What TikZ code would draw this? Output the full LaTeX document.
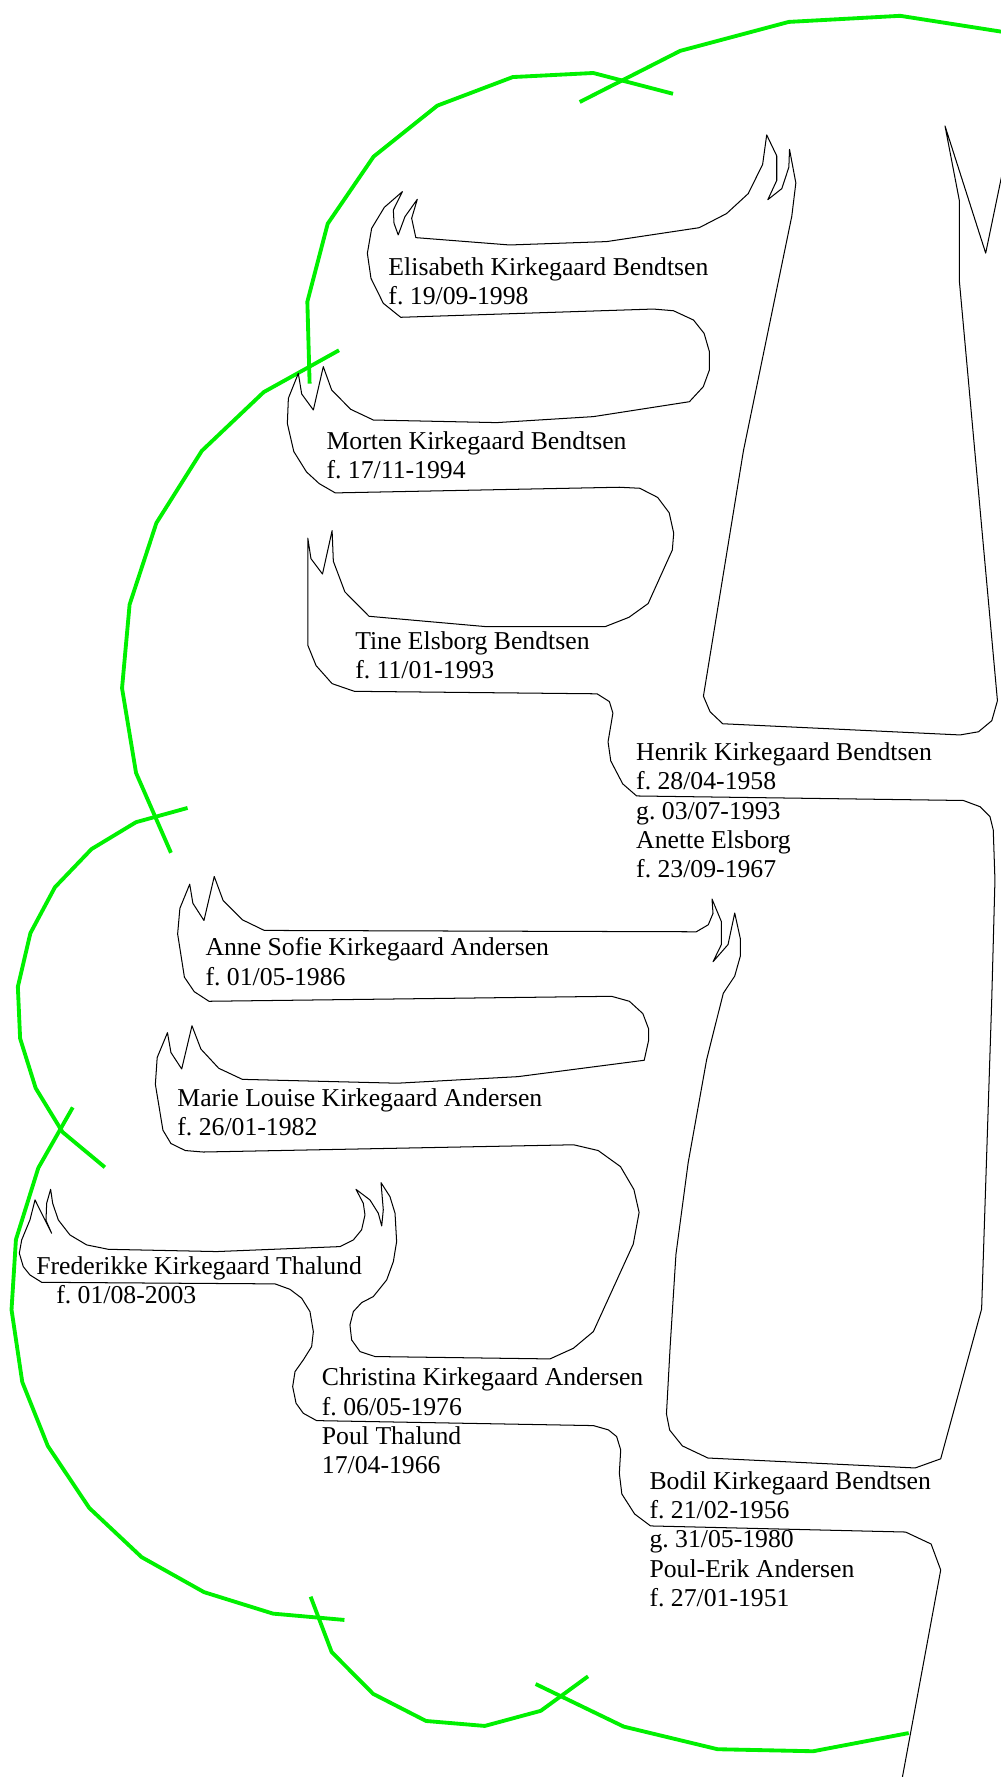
\documentclass[tikz,border=0pt]{standalone}
\usepackage{fontspec}
\setmainfont{Liberation Serif}
\frenchspacing
\begin{document}
\begin{tikzpicture}[x=1pt,y=-1pt,
  outline/.style={draw=black,line width=0.9pt,line join=round},
  vine/.style={draw={rgb,255:red,0;green,240;blue,0},line width=3.4pt,line join=round},
  txt/.style={inner sep=0pt,align=left,anchor=base west,font=\fontsize{22.76pt}{25.9pt}\selectfont}]
\useasboundingbox (0,0) rectangle (885.8,1572.6);
\begin{scope}
\clip (0,0) rectangle (885.8,1572.6);
% green vines
\draw[vine] (274,339.5) -- (272,267) -- (290,198) -- (330.6,138.6) -- (387,93.5) -- (453.8,68.2) -- (525,64.6) -- (595.6,83);
\draw[vine] (513,90.3) -- (602,45) -- (698,19.4) -- (796.6,14) -- (886,28) -- (900,30.3);
\draw[vine] (300,310) -- (233.4,347) -- (178.6,399) -- (138.4,462.8) -- (114.7,535) -- (108,609) -- (120.4,684) -- (151.3,754.7);
\draw[vine] (166,715) -- (120.4,727.6) -- (81,751.4) -- (48.6,785.2) -- (26.9,825.8) -- (15.8,873.3) -- (17.8,919) -- (31.6,963) -- (55.3,1001.8) -- (92.8,1033);
\draw[vine] (64.4,980) -- (33.9,1033.6) -- (14.1,1097) -- (10.2,1159) -- (19.7,1223) -- (42.3,1279.6) -- (79,1334.5) -- (125.3,1378) -- (180.6,1409) -- (241.6,1428) -- (304.8,1433.6);
\draw[vine] (274.9,1413) -- (293.5,1462) -- (330.2,1499) -- (377,1523) -- (429,1527.4) -- (478.6,1514) -- (520.4,1483.5);
\draw[vine] (474,1490.3) -- (552,1528) -- (635,1548) -- (719.6,1549.8) -- (804.2,1533.7);
% black outline of the tree
\draw[outline] (898,100) -- (872.3,224) -- (836.3,111.5) -- (849,177.5) -- (849,248.6) -- (882.7,620.1) -- (877.7,637.8) -- (865.9,647.6) -- (849.6,650.4) -- (639.6,640.5) -- (628.4,629.9) -- (622.5,616.1) -- (657.9,399) -- (700.7,191.4) -- (704.3,161.9) -- (698.7,132.2) -- (698.1,148) -- (691.9,166.9) -- (679.5,176.7) -- (687.4,159.7) -- (687.4,138) -- (678.5,119.4) -- (674.9,145.5) -- (662.2,171.3) -- (643,189) -- (618.8,201.5) -- (536.9,213.8) -- (451,216.8) -- (368,210.3) -- (364.3,193.2) -- (369.3,176.4) -- (358.4,191.7) -- (352.4,207.9) -- (348.7,197.6) -- (348.1,185.8) -- (356.1,169.6) -- (340.1,183.5) -- (328.9,202.1) -- (325.1,224.2) -- (328.3,246.3) -- (339.2,268.4) -- (354.6,280.8) -- (578.2,273.5) -- (596,275) -- (613.7,283.2) -- (623.1,295) -- (627.8,311.2) -- (627.8,327.4) -- (622.4,342.2) -- (610.1,355.5) -- (525.1,368.7) -- (439.5,374) -- (330.4,371.7) -- (310.3,362.2) -- (293.5,345.1) -- (286.1,324.5) -- (277.3,362.8) -- (267,348.7) -- (264,330.4) -- (255.2,352.5) -- (254.3,374.8) -- (260,399.6) -- (271.2,417.6) -- (282.5,428) -- (296.7,436.2) -- (548.1,431.2) -- (566.2,432.1) -- (582,440.2) -- (592.2,453.8) -- (596.2,471.8) -- (595,486.7) -- (573.6,534.1) -- (556.6,546.3) -- (535.7,554.5) -- (429.5,554.5) -- (326.6,545.4) -- (305.2,523.8) -- (295,496.7) -- (293.9,469.6) -- (285.4,508) -- (275.2,494.4) -- (272.4,476.3) -- (272.4,571) -- (279.7,589) -- (293.9,605) -- (313.6,611.8) -- (528.4,614) -- (539.3,620.9) -- (542.4,631.1) -- (538.1,656.5) -- (540.5,673.4) -- (551.1,693.7) -- (563.4,704.4) -- (852.5,708.4) -- (867.3,713.9) -- (876.1,722.7) -- (879,734.5) -- (880.5,778.8) -- (877.6,886.6) -- (868.7,1158.4) -- (832.5,1291) -- (809.9,1299.1) -- (626.5,1290.3) -- (603.9,1279.6) -- (592.6,1265.5) -- (589.8,1251.3) -- (593.1,1191) -- (598.2,1110) -- (609,1029) -- (625.4,937.5) -- (640.1,879) -- (650.2,863.8) -- (655.2,846) -- (655.2,830.8) -- (650.2,808) -- (644.3,835.9) -- (631,851.1) -- (638.4,835.9) -- (638.4,815.6) -- (630.1,795.6) -- (631,808.3) -- (626.8,818.4) -- (616.2,824.6) -- (233.9,823.4) -- (214.5,814) -- (197.5,797) -- (189.6,775.7) -- (180.5,814.6) -- (170.7,799.4) -- (167.9,782.5) -- (159.2,803.8) -- (157.2,826.5) -- (163.2,864.8) -- (171.9,877.6) -- (184.9,886.1) -- (541.2,881.7) -- (557,886.1) -- (568.9,897) -- (574,910.5) -- (574,920.7) -- (570.1,938.3) -- (458.3,952.8) -- (351.6,958.6) -- (214.5,955.2) -- (193.6,945.4) -- (177.8,928.4) -- (169.9,907.8) -- (160.8,946) -- (151.3,931.5) -- (148.2,913.9) -- (139.1,935.9) -- (137.5,959.6) -- (144.2,1000.2) -- (151.3,1012) -- (164,1018.2) -- (179.8,1019.5) -- (507.7,1013.1) -- (529.4,1018.2) -- (549.1,1032.4) -- (561,1052.7) -- (565.6,1073) -- (560.4,1101) -- (525.1,1178.4) -- (507.4,1193.2) -- (486.7,1202.6) -- (331.9,1200.5) -- (318.6,1196.1) -- (311.2,1185.8) -- (309.7,1172.5) -- (312.7,1160.7) -- (320,1152.8) -- (330.4,1147.4) -- (342.2,1132.7) -- (348.1,1116.5) -- (351,1098.8) -- (349.6,1073.7) -- (345.1,1059) -- (337.2,1046.6) -- (339.2,1070.7) -- (337.8,1084.9) -- (334.8,1073.7) -- (327.4,1061.9) -- (315,1052.5) -- (321.5,1064.8) -- (323,1075.2) -- (320,1088.4) -- (312.7,1097.3) -- (300.9,1103.2) -- (191.7,1107.6) -- (95.9,1105.6) -- (76.7,1101.7) -- (61.9,1092.9) -- (51.6,1079.6) -- (46.6,1064.8) -- (44.8,1052.5) -- (41.3,1064.8) -- (40.7,1080) -- (45.7,1091.4) -- (31,1061.9) -- (26.5,1079.6) -- (19.2,1097.3) -- (17.1,1109.1) -- (20.6,1120.9) -- (26.5,1128.3) -- (36.9,1134.8) -- (243.4,1136.2) -- (256.6,1141) -- (267,1148.9) -- (274.3,1160.7) -- (277.3,1178.4) -- (275.8,1191.7) -- (268.4,1203.5) -- (261.1,1213.8) -- (259,1227.1) -- (262,1241.8) -- (268.4,1250.7) -- (280.2,1257.2) -- (525.1,1261.6) -- (538.4,1265.4) -- (545.7,1271.3) -- (549.3,1283.1) -- (548.1,1303.8) -- (550.3,1322.1) -- (561.6,1339.8) -- (575.7,1350.4) -- (801.4,1355.8) -- (824,1366.4) -- (832.5,1389.4) -- (798.6,1572.7) -- (796,1590);
\end{scope}
% names (anchored at the baseline of the last line)
\node[txt] (elisabeth) at (343.6,269.3) {Elisabeth Kirkegaard Bendtsen\\f. 19/09-1998};
\node[txt] (morten) at (288.8,423.9) {Morten Kirkegaard Bendtsen\\f. 17/11-1994};
\node[txt] (tine) at (314.2,600.6) {Tine Elsborg Bendtsen\\f. 11/01-1993};
\node[txt] (henrik) at (562.8,776.8) {Henrik Kirkegaard Bendtsen\\f. 28/04-1958\\g. 03/07-1993\\Anette Elsborg\\f. 23/09-1967};
\node[txt] (annesofie) at (181.7,871.9) {Anne Sofie Kirkegaard Andersen\\f. 01/05-1986};
\node[txt] (marie) at (156.8,1004.9) {Marie Louise Kirkegaard Andersen\\f. 26/01-1982};
\node[txt] (frederikke) at (31.9,1153.6) {Frederikke Kirkegaard Thalund\\\hspace*{17.7pt}f. 01/08-2003};
\node[txt] (christina) at (284.7,1304.2) {Christina Kirkegaard Andersen\\f. 06/05-1976\\Poul Thalund\\17/04-1966};
\node[txt] (bodil) at (574.6,1421.6) {Bodil Kirkegaard Bendtsen\\f. 21/02-1956\\g. 31/05-1980\\Poul-Erik Andersen\\f. 27/01-1951};
\end{tikzpicture}
\end{document}
